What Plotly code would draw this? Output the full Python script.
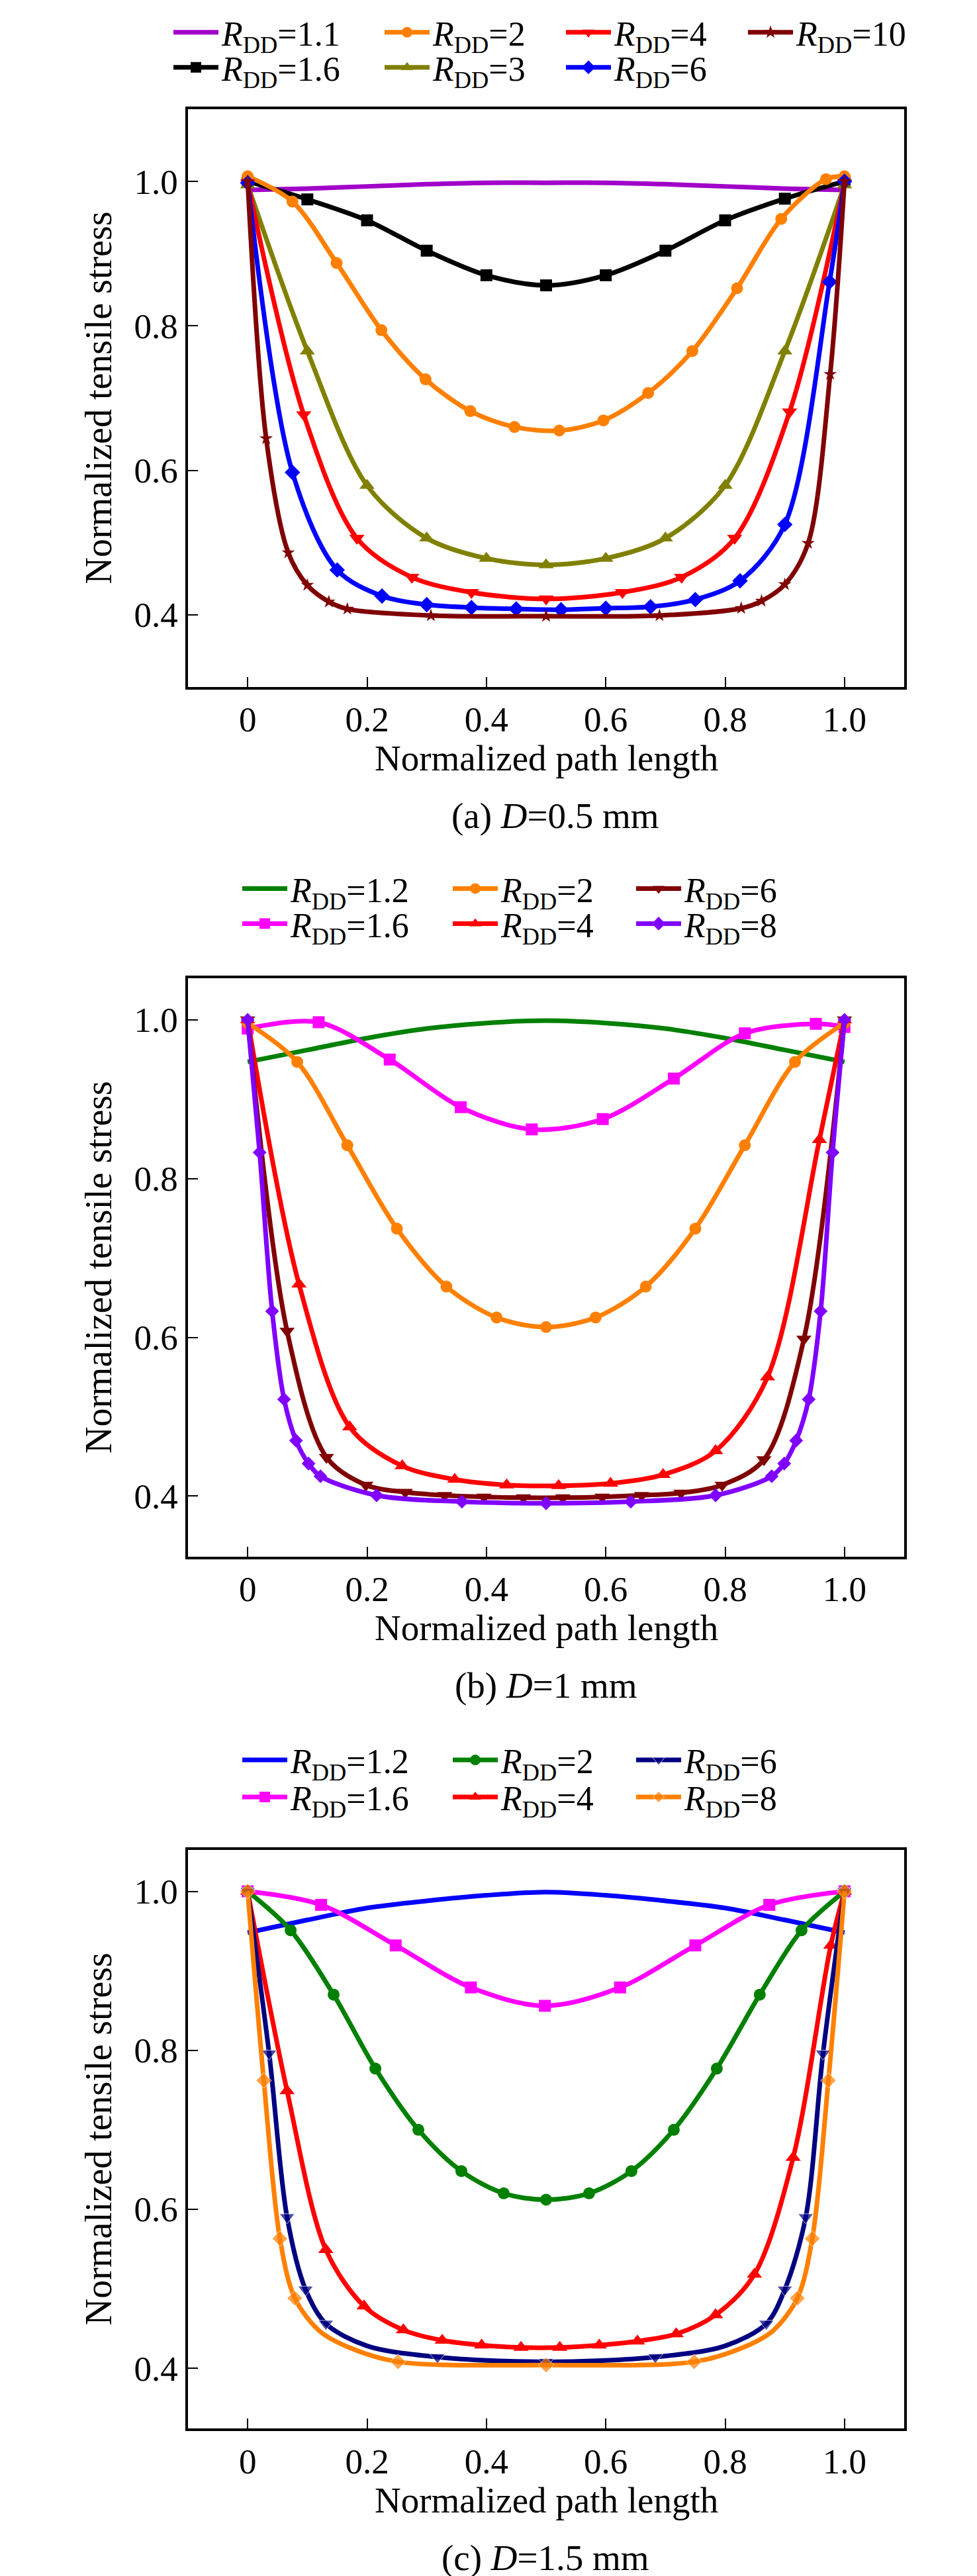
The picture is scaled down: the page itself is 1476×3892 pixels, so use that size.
import plotly.graph_objects as go

FONT = "Liberation Serif"

# ---------- (a) D = 0.5 mm ----------
a_r11_x = [0, 0.1, 0.2, 0.3, 0.4, 0.5, 0.6, 0.7, 0.8, 0.9, 1.0]
a_r11_y = [0.988, 0.990, 0.993, 0.996, 0.998, 0.998, 0.998, 0.996, 0.993, 0.990, 0.988]

a_r16_x = [0, 0.1, 0.2, 0.3, 0.4, 0.5, 0.6, 0.7, 0.8, 0.9, 1.0]
a_r16_y = [1.0, 0.975, 0.946, 0.904, 0.870, 0.856, 0.870, 0.904, 0.946, 0.976, 1.0]

a_r2_x = [0, 0.075, 0.149, 0.224, 0.298, 0.373, 0.447, 0.522, 0.596, 0.671, 0.745, 0.820, 0.894, 0.969, 1.0]
a_r2_y = [1.007, 0.972, 0.887, 0.794, 0.726, 0.682, 0.660, 0.655, 0.669, 0.707, 0.765, 0.852, 0.948, 1.003, 1.007]

a_r3_x = [0, 0.1, 0.2, 0.3, 0.4, 0.5, 0.6, 0.7, 0.8, 0.9, 1.0]
a_r3_y = [0.995, 0.765, 0.579, 0.506, 0.478, 0.469, 0.478, 0.506, 0.579, 0.765, 0.995]

a_r4_x = [0, 0.094, 0.183, 0.275, 0.375, 0.5, 0.628, 0.727, 0.816, 0.908, 1.0]
a_r4_y = [0.998, 0.677, 0.506, 0.452, 0.431, 0.422, 0.431, 0.452, 0.506, 0.681, 0.998]

a_r6_x = [0, 0.075, 0.15, 0.225, 0.3, 0.375, 0.45, 0.525, 0.6, 0.675, 0.75, 0.825, 0.9, 0.975, 1.0]
a_r6_y = [0.998, 0.597, 0.462, 0.426, 0.414, 0.410, 0.408, 0.407, 0.409, 0.411, 0.421, 0.447, 0.525, 0.861, 1.0]

a_r10_x = [0, 0.031, 0.068, 0.10, 0.136, 0.167, 0.307, 0.5, 0.69, 0.827, 0.861, 0.9, 0.939, 0.976, 1.0]
a_r10_y = [1.0, 0.644, 0.486, 0.441, 0.418, 0.408, 0.399, 0.398, 0.399, 0.409, 0.419, 0.442, 0.499, 0.733, 1.0]

# ---------- (b) D = 1 mm ----------
b_r12_x = [0, 0.1, 0.2, 0.3, 0.4, 0.5, 0.6, 0.7, 0.8, 0.9, 1.0]
b_r12_y = [0.947, 0.962, 0.977, 0.989, 0.996, 0.999, 0.996, 0.989, 0.977, 0.962, 0.947]

b_r16_x = [0, 0.119, 0.238, 0.357, 0.476, 0.595, 0.714, 0.833, 0.952, 1.0]
b_r16_y = [0.989, 0.997, 0.950, 0.890, 0.862, 0.875, 0.926, 0.983, 0.995, 0.991]

b_r2_x = [0, 0.083, 0.167, 0.25, 0.333, 0.417, 0.5, 0.583, 0.667, 0.75, 0.833, 0.917, 1.0]
b_r2_y = [0.996, 0.947, 0.842, 0.737, 0.664, 0.625, 0.613, 0.625, 0.664, 0.737, 0.842, 0.947, 0.996]

b_r4_x = [0, 0.086, 0.171, 0.259, 0.347, 0.434, 0.521, 0.608, 0.696, 0.784, 0.871, 0.958, 1.0]
b_r4_y = [1.0, 0.667, 0.487, 0.438, 0.421, 0.414, 0.413, 0.416, 0.427, 0.457, 0.550, 0.849, 1.0]

b_r6_x = [0, 0.066, 0.132, 0.198, 0.264, 0.33, 0.396, 0.462, 0.528, 0.594, 0.66, 0.726, 0.795, 0.865, 0.932, 1.0]
b_r6_y = [1.0, 0.608, 0.449, 0.414, 0.405, 0.401, 0.399, 0.398, 0.398, 0.399, 0.401, 0.404, 0.414, 0.446, 0.598, 1.0]

b_r8_x = [0, 0.02, 0.041, 0.061, 0.081, 0.102, 0.122, 0.216, 0.359, 0.5, 0.642, 0.784, 0.878, 0.899, 0.919, 0.94, 0.96, 0.98, 1.0]
b_r8_y = [1.0, 0.833, 0.633, 0.522, 0.470, 0.441, 0.425, 0.401, 0.393, 0.391, 0.393, 0.401, 0.425, 0.441, 0.470, 0.522, 0.633, 0.833, 1.0]

# ---------- (c) D = 1.5 mm ----------
c_r12_x = [0, 0.1, 0.2, 0.3, 0.4, 0.5, 0.6, 0.7, 0.8, 0.9, 1.0]
c_r12_y = [0.948, 0.964, 0.979, 0.988, 0.995, 0.999, 0.995, 0.988, 0.979, 0.964, 0.948]

c_r16_x = [0, 0.123, 0.248, 0.374, 0.498, 0.624, 0.75, 0.874, 1.0]
c_r16_y = [1.0, 0.983, 0.932, 0.879, 0.856, 0.879, 0.932, 0.983, 1.0]

c_r2_x = [0, 0.072, 0.144, 0.214, 0.286, 0.358, 0.429, 0.5, 0.572, 0.643, 0.714, 0.786, 0.858, 0.928, 1.0]
c_r2_y = [1.0, 0.951, 0.870, 0.777, 0.700, 0.648, 0.620, 0.612, 0.620, 0.648, 0.700, 0.777, 0.870, 0.951, 1.0]

c_r4_x = [0, 0.066, 0.131, 0.195, 0.261, 0.326, 0.392, 0.458, 0.523, 0.589, 0.653, 0.718, 0.784, 0.849, 0.914, 0.977, 1.0]
c_r4_y = [1.0, 0.749, 0.549, 0.478, 0.448, 0.435, 0.429, 0.426, 0.426, 0.429, 0.434, 0.443, 0.467, 0.518, 0.665, 0.932, 1.0]

c_r6_x = [0, 0.036, 0.066, 0.097, 0.131, 0.2, 0.318, 0.5, 0.683, 0.8, 0.869, 0.9, 0.935, 0.964, 1.0]
c_r6_y = [1.0, 0.796, 0.590, 0.499, 0.456, 0.428, 0.414, 0.408, 0.414, 0.428, 0.456, 0.499, 0.590, 0.796, 1.0]
c_r6_unmarked = [5, 9]          # curve points, no symbol there

c_r8_x = [0, 0.027, 0.054, 0.079, 0.12, 0.17, 0.252, 0.5, 0.748, 0.83, 0.88, 0.921, 0.946, 0.973, 1.0]
c_r8_y = [1.0, 0.762, 0.563, 0.488, 0.447, 0.426, 0.408, 0.404, 0.408, 0.426, 0.447, 0.488, 0.563, 0.762, 1.0]
c_r8_unmarked = [4, 5, 9, 10]

x_tick_vals = [0, 0.2, 0.4, 0.6, 0.8, 1.0]
x_tick_text = ["0", "0.2", "0.4", "0.6", "0.8", "1.0"]
y_tick_vals = [0.4, 0.6, 0.8, 1.0]
y_tick_text = ["0.4", "0.6", "0.8", "1.0"]
captions = ["(a) <i>D</i>=0.5 mm", "(b) <i>D</i>=1 mm", "(c) <i>D</i>=1.5 mm"]

W, H = 1476, 3892
TEXT_GAP = 78          # legend: item start -> text start (itemwidth + 10)


def px_x(p):
    return p / W


def px_y(p):
    return 1 - p / H


fig = go.Figure()
legends = {}


def curve(x, y, label, color, symbol, size, n, text_x, row_y, unmarked=()):
    # every legend entry is its own legend so the columns sit where the reference has them
    key = "legend" if not legends else f"legend{len(legends) + 1}"
    legends[key] = (text_x - TEXT_GAP, row_y)
    sizes = [0 if i in unmarked else size for i in range(len(x))] if unmarked else size
    fig.add_trace(go.Scatter(
        x=x, y=y, name="<i>R</i><sub>DD</sub>=" + label,
        mode="lines+markers" if symbol else "lines",
        line=dict(color=color, width=7, shape="spline", smoothing=0.9),
        marker=dict(symbol=symbol or "circle", size=sizes, color=color),
        xaxis="x" if n == 1 else f"x{n}", yaxis="y" if n == 1 else f"y{n}",
        legend=key, showlegend=True,
    ))


# panel a   (legend text x, legend row y in px)
curve(a_r11_x, a_r11_y, "1.1", "#A000C8", None, 0, 1, 327, 37)
curve(a_r16_x, a_r16_y, "1.6", "#000000", "square", 18, 1, 327, 90)
curve(a_r2_x, a_r2_y, "2", "#FF8000", "circle", 18, 1, 646, 37)
curve(a_r3_x, a_r3_y, "3", "#808000", "triangle-up", 20, 1, 646, 90)
curve(a_r4_x, a_r4_y, "4", "#FF0000", "triangle-down", 20, 1, 920, 37)
curve(a_r6_x, a_r6_y, "6", "#0000FF", "diamond", 18, 1, 920, 90)
curve(a_r10_x, a_r10_y, "10", "#800000", "star", 15, 1, 1195, 37)

# panel b
curve(b_r12_x, b_r12_y, "1.2", "#008000", None, 0, 2, 431, 1332)
curve(b_r16_x, b_r16_y, "1.6", "#FF00FF", "square", 18, 2, 431, 1385)
curve(b_r2_x, b_r2_y, "2", "#FF8000", "circle", 18, 2, 749, 1332)
curve(b_r4_x, b_r4_y, "4", "#FF0000", "triangle-up", 20, 2, 749, 1385)
curve(b_r6_x, b_r6_y, "6", "#800000", "triangle-down", 20, 2, 1026, 1332)
curve(b_r8_x, b_r8_y, "8", "#8000FF", "diamond", 16, 2, 1026, 1385)

# panel c
curve(c_r12_x, c_r12_y, "1.2", "#0000FF", None, 0, 3, 431, 2650)
curve(c_r16_x, c_r16_y, "1.6", "#FF00FF", "square", 18, 3, 431, 2706)
curve(c_r2_x, c_r2_y, "2", "#008000", "circle", 18, 3, 749, 2650)
curve(c_r4_x, c_r4_y, "4", "#FF0000", "triangle-up", 20, 3, 749, 2706)
curve(c_r6_x, c_r6_y, "6", "#000080", "triangle-down", 20, 3, 1026, 2650, c_r6_unmarked)
curve(c_r8_x, c_r8_y, "8", "#FF8000", "diamond", 18, 3, 1026, 2706, c_r8_unmarked)

# plot frames in pixels: (top, bottom)
frames = [(153, 1027), (1468, 2342), (2786, 3661)]
y_ranges = [[0.3, 1.1], [0.324, 1.052], [0.324, 1.052]]
x_left, x_right = 276, 1358

axis_common = dict(
    showline=True, linewidth=3.5, linecolor="black", mirror=True,
    ticks="inside", ticklen=15, tickwidth=2, tickcolor="black",
    showgrid=False, zeroline=False,
    tickfont=dict(family=FONT, size=53, color="black"),
)

layout = dict(
    width=W, height=H, margin=dict(l=0, r=0, t=0, b=0),
    paper_bgcolor="white", plot_bgcolor="white",
    font=dict(family=FONT, color="black"),
)

annotations = []
for i, ((top, bot), yr) in enumerate(zip(frames, y_ranges)):
    n = i + 1
    xs = "" if n == 1 else str(n)
    layout["xaxis" + xs] = dict(
        axis_common, domain=[px_x(x_left), px_x(x_right)], range=[-0.1, 1.1],
        tickvals=x_tick_vals, ticktext=x_tick_text, anchor="y" + xs,
        ticklabelstandoff=0,
    )
    layout["yaxis" + xs] = dict(
        axis_common, domain=[px_y(bot), px_y(top)], range=yr,
        tickvals=y_tick_vals, ticktext=y_tick_text, anchor="x" + xs,
        ticklabelstandoff=1,
    )
    annotations.append(dict(
        text="Normalized path length", x=px_x(817), y=px_y(bot + 108),
        xref="paper", yref="paper", showarrow=False, xanchor="center", yanchor="middle",
        font=dict(family=FONT, size=55, color="black"),
    ))
    annotations.append(dict(
        text="Normalized tensile stress", x=px_x(141), y=px_y((top + bot) / 2),
        xref="paper", yref="paper", showarrow=False, xanchor="center", yanchor="middle",
        textangle=-90, font=dict(family=FONT, size=56, color="black"),
    ))
    annotations.append(dict(
        text=captions[i], x=px_x(831 if n == 1 else 816), y=px_y(bot + 195),
        xref="paper", yref="paper", showarrow=False, xanchor="center", yanchor="middle",
        font=dict(family=FONT, size=55, color="black"),
    ))
layout["annotations"] = annotations

for key, (lx, ly) in legends.items():
    layout[key] = dict(
        x=px_x(lx), y=px_y(ly), xanchor="left", yanchor="middle",
        orientation="h", bgcolor="rgba(0,0,0,0)", borderwidth=0,
        font=dict(family=FONT, size=52, color="black"),
        itemwidth=68, itemsizing="trace", itemclick=False, itemdoubleclick=False,
    )

fig.update_layout(**layout)
fig.write_html("out.html")
